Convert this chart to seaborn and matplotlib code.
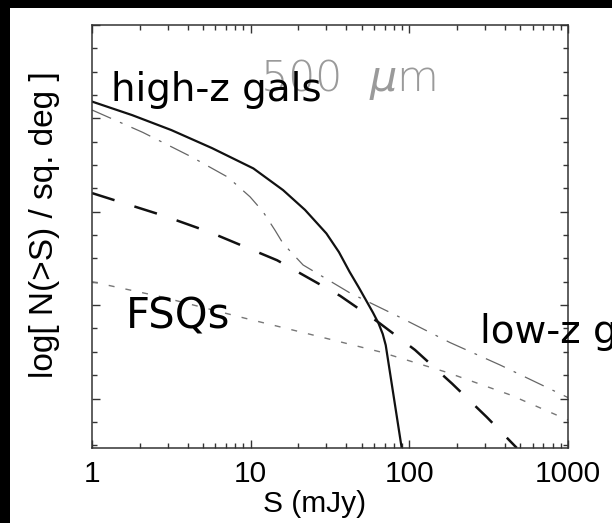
import matplotlib
matplotlib.use("Agg")
import matplotlib.pyplot as plt
import matplotlib.ticker as mticker
from matplotlib.patches import Rectangle
import numpy as np
import pandas as pd
import seaborn as sns

# ---- data (S in mJy, log N(>S) per sq. deg) ----
S_highz = [1, 1.79, 3.16, 5.7, 10.4, 16, 22, 30, 36, 42, 48, 54, 59, 64, 68, 71, 89.5]
logN_highz = [3.18, 3.035, 2.875, 2.682, 2.464, 2.232, 2.02, 1.768, 1.568, 1.357,
              1.19, 1.036, 0.92, 0.804, 0.69, 0.571, -0.53]

S_dashdot = [1, 2.09, 4.21, 7.19, 9.91, 11.97, 14.26, 16.0, 21.4, 42.3, 87.3, 180, 372, 1000]
logN_dashdot = [3.09, 2.85, 2.59, 2.37, 2.16, 2.00, 1.80, 1.66, 1.43, 1.13, 0.87, 0.60, 0.36, 0.01]

S_lowz = [1, 2.8, 5.55, 14.7, 36.6, 63.4, 108.6, 185.8, 308, 476]
logN_lowz = [2.20, 1.96, 1.78, 1.48, 1.10, 0.82, 0.52, 0.16, -0.20, -0.53]

S_fsq = [1, 2.72, 9.2, 24.7, 65.3, 172.6, 430.5, 1000]
logN_fsq = [1.25, 1.09, 0.86, 0.68, 0.50, 0.28, 0.04, -0.23]

xtick_vals = [1, 10, 100, 1000]
xtick_labels = ["1", "10", "100", "1000"]

sns.set_theme(style="ticks")
plt.rcParams["font.family"] = ["Liberation Sans", "DejaVu Sans"]
plt.rcParams["lines.scale_dashes"] = False

W, H = 612, 523
fig = plt.figure(figsize=(W / 100, H / 100), dpi=100, facecolor="black")
# white panel area (black border at top / left)
bg = Rectangle((10 / W, 0), 1 - 10 / W, (H - 8) / H,
               transform=fig.transFigure, facecolor="white",
               edgecolor="none", zorder=-10)
fig.patches.append(bg)

ax = fig.add_axes([92 / W, (H - 448) / H, (568 - 92) / W, (448 - 25) / H])
ax.set_zorder(5)
ax.set_facecolor("white")

sns.lineplot(x=S_dashdot, y=logN_dashdot, ax=ax, color="#666666", lw=0.9,
             linestyle=(0, (15, 7, 2, 7)), sort=False)
sns.lineplot(x=S_fsq, y=logN_fsq, ax=ax, color="#777777", lw=1.0,
             linestyle=(0, (4.3, 8)), sort=False)
sns.lineplot(x=S_lowz, y=logN_lowz, ax=ax, color="#111111", lw=1.8,
             linestyle=(0, (17, 15)), sort=False)
sns.lineplot(x=S_highz, y=logN_highz, ax=ax, color="#111111", lw=1.6,
             linestyle="-", sort=False)

ax.set_xscale("log")
ax.set_xlim(1, 1000)
ax.set_ylim(-0.53, 4.0)
ax.set_xticks(xtick_vals)
ax.set_xticklabels(xtick_labels)
ax.xaxis.set_minor_locator(mticker.LogLocator(base=10, subs=np.arange(2, 10)))
ax.xaxis.set_minor_formatter(mticker.NullFormatter())
ax.yaxis.set_major_locator(mticker.MultipleLocator(1.0))
ax.yaxis.set_minor_locator(mticker.MultipleLocator(0.25))
ax.set_yticklabels([])

ax.tick_params(which="both", direction="in", top=True, right=True,
               color="#333333", width=1.0)
ax.tick_params(which="major", length=6, labelsize=21.5, pad=9,
               labelcolor="black")
ax.tick_params(which="minor", length=3.5)
for sp in ax.spines.values():
    sp.set_color("#333333")
    sp.set_linewidth(1.1)

ax.set_xlabel("S (mJy)", fontsize=21.5, color="black")
ax.xaxis.set_label_coords((315 - 92) / 476, -(490 - 448) / 423)
ax.set_ylabel("log[ N(>S) / sq. deg ]", fontsize=24, color="black")
ax.yaxis.set_label_coords(-(92 - 60) / 476, (448 - 225) / 423)

def fx(px):
    return (px - 92) / 476

def fy(py):
    return (448 - py) / 423

ax.text(fx(260), fy(91), r"500  $\mu$m", transform=ax.transAxes,
        fontsize=31, color="#9a9a9a", fontweight="light",
        family=["DejaVu Sans"], ha="left", va="baseline", zorder=1)
ax.text(fx(111), fy(101), "high-z gals", transform=ax.transAxes,
        fontsize=28, color="black", family=["DejaVu Sans"],
        ha="left", va="baseline", zorder=5)
ax.text(fx(126), fy(328), "FSQs", transform=ax.transAxes,
        fontsize=30, color="black", family=["DejaVu Sans"],
        ha="left", va="baseline", zorder=5)
ax.text(fx(480), fy(343), "low-z gals", transform=ax.transAxes,
        fontsize=28, color="black", family=["DejaVu Sans"],
        ha="left", va="baseline", zorder=5, clip_on=False)

fig.savefig("out.png", dpi=100, facecolor=fig.get_facecolor())
